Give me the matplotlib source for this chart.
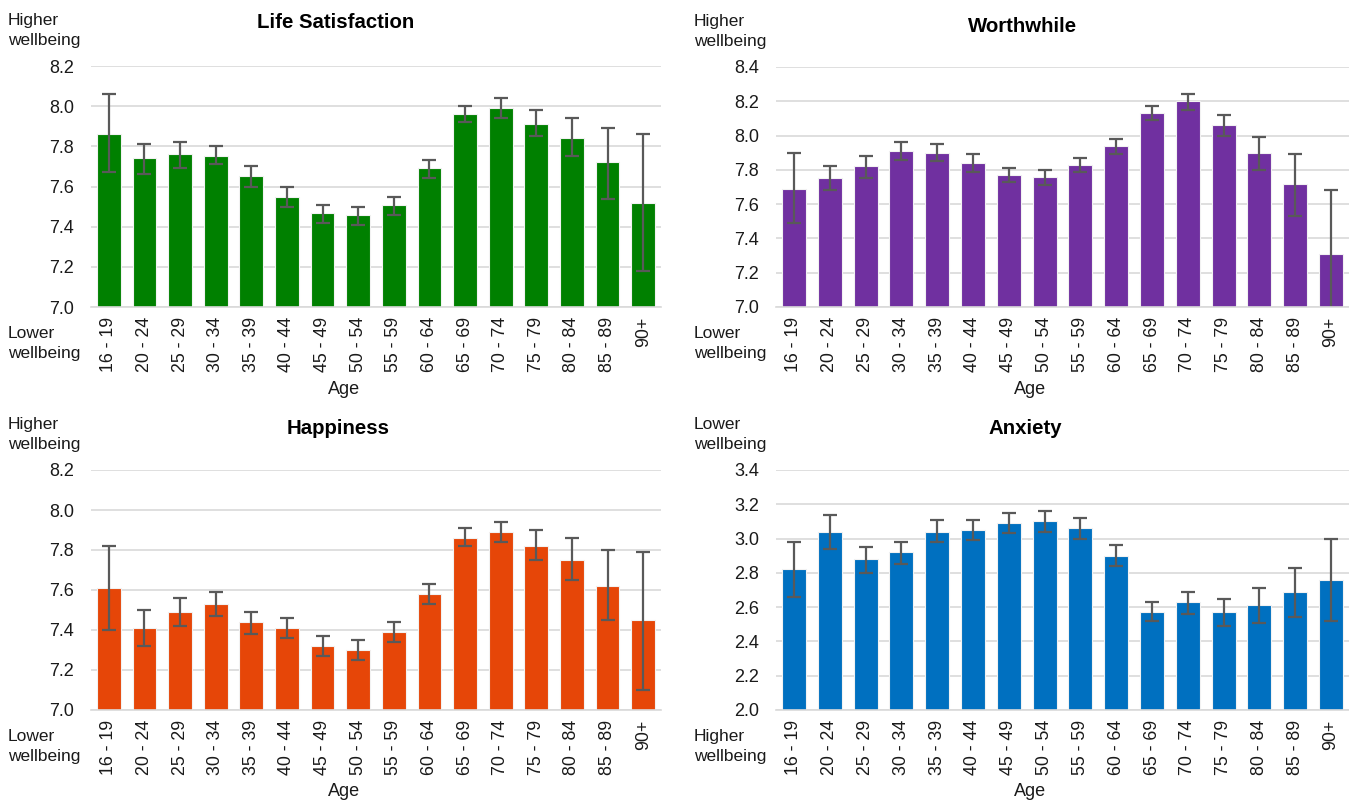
import matplotlib
matplotlib.use("Agg")
import matplotlib.pyplot as plt
import numpy as np

plt.rcParams['font.family'] = ['Liberation Sans', 'DejaVu Sans']

ages = ["16 - 19", "20 - 24", "25 - 29", "30 - 34", "35 - 39", "40 - 44", "45 - 49",
        "50 - 54", "55 - 59", "60 - 64", "65 - 69", "70 - 74", "75 - 79", "80 - 84",
        "85 - 89", "90+"]

life_val = [7.86, 7.74, 7.76, 7.75, 7.65, 7.55, 7.47, 7.46, 7.51, 7.69, 7.96, 7.99, 7.91, 7.84, 7.72, 7.52]
life_lo = [7.67, 7.66, 7.69, 7.71, 7.60, 7.50, 7.42, 7.41, 7.46, 7.64, 7.92, 7.94, 7.85, 7.75, 7.54, 7.18]
life_hi = [8.06, 7.81, 7.82, 7.80, 7.70, 7.60, 7.51, 7.50, 7.55, 7.73, 8.00, 8.04, 7.98, 7.94, 7.89, 7.86]

worth_val = [7.69, 7.75, 7.82, 7.91, 7.90, 7.84, 7.77, 7.76, 7.83, 7.94, 8.13, 8.20, 8.06, 7.90, 7.72, 7.31]
worth_lo = [7.49, 7.68, 7.75, 7.86, 7.85, 7.79, 7.73, 7.71, 7.79, 7.89, 8.09, 8.15, 8.00, 7.80, 7.53, 6.94]
worth_hi = [7.90, 7.82, 7.88, 7.96, 7.95, 7.89, 7.81, 7.80, 7.87, 7.98, 8.17, 8.24, 8.12, 7.99, 7.89, 7.68]

happy_val = [7.61, 7.41, 7.49, 7.53, 7.44, 7.41, 7.32, 7.30, 7.39, 7.58, 7.86, 7.89, 7.82, 7.75, 7.62, 7.45]
happy_lo = [7.40, 7.32, 7.42, 7.47, 7.38, 7.36, 7.27, 7.25, 7.34, 7.53, 7.82, 7.84, 7.75, 7.65, 7.45, 7.10]
happy_hi = [7.82, 7.50, 7.56, 7.59, 7.49, 7.46, 7.37, 7.35, 7.44, 7.63, 7.91, 7.94, 7.90, 7.86, 7.80, 7.79]

anx_val = [2.82, 3.04, 2.88, 2.92, 3.04, 3.05, 3.09, 3.10, 3.06, 2.90, 2.57, 2.63, 2.57, 2.61, 2.69, 2.76]
anx_lo = [2.66, 2.94, 2.80, 2.85, 2.98, 2.99, 3.03, 3.04, 3.00, 2.84, 2.52, 2.56, 2.49, 2.51, 2.54, 2.52]
anx_hi = [2.98, 3.14, 2.95, 2.98, 3.11, 3.11, 3.15, 3.16, 3.12, 2.96, 2.63, 2.69, 2.65, 2.71, 2.83, 3.00]

W, H = 1349, 801
fig = plt.figure(figsize=(W / 100, H / 100), dpi=100)


def px_axes(x0, y_top, x1, y_bot):
    return fig.add_axes([x0 / W, 1 - y_bot / H, (x1 - x0) / W, (y_bot - y_top) / H])


panels = [
    dict(title="Life Satisfaction", val=life_val, lo=life_lo, hi=life_hi, color="#008000",
         ylim=(7.0, 8.2), ticks=np.arange(7.0, 8.21, 0.2), box=(91, 66, 661, 307),
         top="Higher\nwellbeing", bot="Lower\nwellbeing", tx=336, ty=23, lx=8),
    dict(title="Worthwhile", val=worth_val, lo=worth_lo, hi=worth_hi, color="#7030A0",
         ylim=(7.0, 8.4), ticks=np.arange(7.0, 8.41, 0.2), box=(776, 67, 1349, 307),
         top="Higher\nwellbeing", bot="Lower\nwellbeing", tx=1023, ty=26, lx=694),
    dict(title="Happiness", val=happy_val, lo=happy_lo, hi=happy_hi, color="#E64608",
         ylim=(7.0, 8.2), ticks=np.arange(7.0, 8.21, 0.2), box=(91, 470, 661, 710),
         top="Higher\nwellbeing", bot="Lower\nwellbeing", tx=338, ty=428, lx=8),
    dict(title="Anxiety", val=anx_val, lo=anx_lo, hi=anx_hi, color="#0070C0",
         ylim=(2.0, 3.4), ticks=np.arange(2.0, 3.41, 0.2), box=(776, 470, 1349, 710),
         top="Lower\nwellbeing", bot="Higher\nwellbeing", tx=1025, ty=428, lx=694),
]

for p in panels:
    x0, yt, x1, yb = p["box"]
    ax = px_axes(x0, yt, x1, yb)
    x = np.arange(len(ages))
    val = np.array(p["val"])
    lo = np.array(p["lo"])
    hi = np.array(p["hi"])
    ax.bar(x, val - p["ylim"][0], bottom=p["ylim"][0], width=0.67, color=p["color"],
           edgecolor="#f2f2f2", linewidth=0.8, zorder=2)
    ax.errorbar(x, val, yerr=[val - lo, hi - val], fmt="none", ecolor="#595959",
                elinewidth=1.6, capsize=5, capthick=1.6, zorder=3)
    ax.set_xlim(-0.5, len(ages) - 0.5)
    ax.set_ylim(*p["ylim"])
    ax.set_yticks(p["ticks"])
    ax.set_yticklabels([f"{t:.1f}" for t in p["ticks"]], fontsize=13, color="#1a1a1a")
    ax.set_xticks(x)
    ax.set_xticklabels(ages, rotation=90, fontsize=12.8, color="#1a1a1a")
    ax.tick_params(axis="both", length=0)
    ax.tick_params(axis="x", pad=7)
    ax.tick_params(axis="y", pad=12)
    ax.grid(axis="y", color="#d9d9d9", linewidth=1.2, zorder=0)
    ax.set_axisbelow(True)
    for s in ["top", "right", "left"]:
        ax.spines[s].set_visible(False)
    ax.spines["bottom"].set_color("#d9d9d9")
    ax.spines["bottom"].set_linewidth(1.2)
    ax.spines["bottom"].set_zorder(4)

    fig.text(p["tx"] / W, 1 - p["ty"] / H, p["title"], ha="center", va="center",
             fontsize=14.7, fontweight="bold", color="#000000")
    fig.text(p["lx"] / W, 1 - (yt - 53) / H, p["top"], ha="left", va="top",
             fontsize=12.5, color="#1a1a1a", linespacing=1.45)
    fig.text(p["lx"] / W, 1 - (yb + 19) / H, p["bot"], ha="left", va="top",
             fontsize=12.5, color="#1a1a1a", linespacing=1.45)
    fig.text(((x0 + x1) / 2 - 32) / W, 1 - (yb + 82) / H, "Age", ha="center",
             va="center", fontsize=13, color="#1a1a1a")

fig.savefig("out.png", dpi=100, facecolor="white")
